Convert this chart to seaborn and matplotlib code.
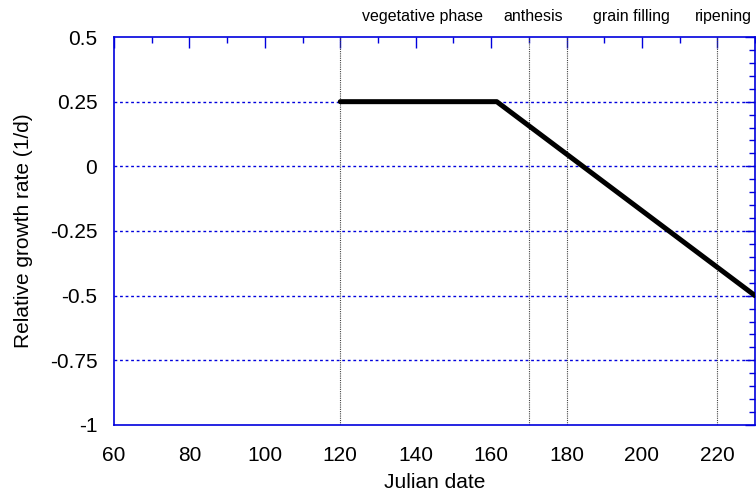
import matplotlib
matplotlib.use("Agg")
import matplotlib.pyplot as plt
import seaborn as sns
import pandas as pd
from matplotlib.ticker import MultipleLocator

# Relative growth rate over the season
julian_day = [120, 161.5, 230]
growth_rate = [0.25, 0.25, -0.5]

# Phenological phase boundaries and labels
phase_bounds = [120, 170, 180, 220]
phase_names = ["vegetative phase", "anthesis", "grain filling", "ripening"]
phase_label_x = [141.8, 171.2, 197.1, 221.6]

sns.set_theme(style="white")
plt.rcParams["font.family"] = ["Liberation Sans", "DejaVu Sans"]
plt.rcParams["text.color"] = "black"
plt.rcParams["axes.labelcolor"] = "black"
plt.rcParams["xtick.labelcolor"] = "black"
plt.rcParams["ytick.labelcolor"] = "black"

df = pd.DataFrame({"day": julian_day, "rgr": growth_rate})

fig = plt.figure(figsize=(7.56, 4.94), dpi=100)
ax = fig.add_axes([0.1508, 0.1397, 0.8480, 0.7854])

blue = "#0000dd"

# horizontal grid at major y ticks
for yv in [0.25, 0, -0.25, -0.5, -0.75]:
    ax.axhline(yv, color=blue, lw=1.0, ls=(0, (2, 2)), zorder=1)

# phase boundaries
for xv in phase_bounds:
    ax.axvline(xv, color="#444444", lw=0.8, ls=(0, (1, 1)), zorder=1)

sns.lineplot(data=df, x="day", y="rgr", ax=ax, color="black", lw=3.6,
             zorder=3)

for name, xv in zip(phase_names, phase_label_x):
    ax.text(xv, 1.054, name, transform=ax.get_xaxis_transform(),
            ha="center", va="center", fontsize=11.5, color="black")

ax.set_xlim(60, 230)
ax.set_ylim(-1, 0.5)
ax.xaxis.set_major_locator(MultipleLocator(20))
ax.xaxis.set_minor_locator(MultipleLocator(10))
ax.yaxis.set_minor_locator(MultipleLocator(0.05))
ax.set_yticks([0.5, 0.25, 0, -0.25, -0.5, -0.75, -1])
ax.set_yticklabels(["0.5", "0.25", "0", "-0.25", "-0.5", "-0.75", "-1"])

ax.tick_params(which="both", direction="in", top=True, right=True,
               color=blue, labelsize=15, width=1, labelcolor="black")
ax.tick_params(axis="x", which="major", length=8, pad=15)
ax.tick_params(axis="x", which="minor", length=4.5)
ax.tick_params(axis="y", which="major", length=7, pad=12)
ax.tick_params(axis="y", which="minor", length=4)
for sp in ax.spines.values():
    sp.set_color(blue)
    sp.set_linewidth(1.2)

ax.set_xlabel("Julian date", fontsize=15, labelpad=6, color="black")
ax.set_ylabel("Relative growth rate (1/d)", fontsize=15, labelpad=12,
              color="black")

fig.savefig("out.png", dpi=100)
